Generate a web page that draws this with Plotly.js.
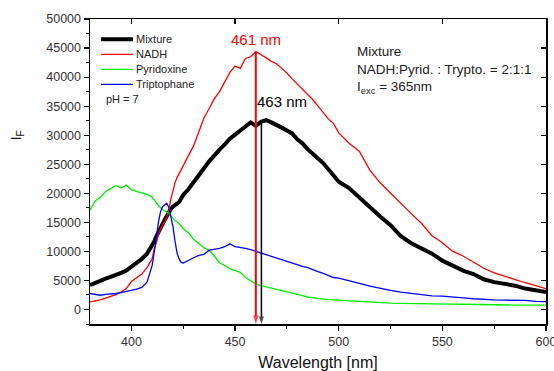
<!DOCTYPE html>
<html>
<head>
<meta charset="utf-8">
<script src="https://cdn.plot.ly/plotly-3.0.1.min.js"></script>
<style>html,body{margin:0;padding:0;background:#fff;}#chart{width:554px;height:371px;}</style>
</head>
<body>
<div id="chart"></div>
<script>
// Wavelength grid (nm)
var wavelength = [380,382.5,385,387.5,390,392.5,395,397.5,400,402.5,405,407.5,410,
  411,412,413,414,415,416,417,418,419,420,421,422,423,424,425,
  427.5,430,432.5,435,437.5,440,442.5,445,447.5,450,452.5,455,457.5,460,462.5,465,467.5,470,472.5,475,477.5,480,482.5,485,487.5,490,492.5,495,497.5,500,
  505,510,515,520,525,530,535,540,545,550,555,560,565,570,575,580,585,590,595,600];

var mixture = [4200,4600,5000,5300,5600,5900,6300,6700,7300,7900,8700,9600,11000,
  11700,12600,13200,14000,14700,15400,16100,16700,17300,17700,17900,18200,18500,19200,19700,
  20700,22000,23300,24300,25500,26600,27500,28400,29400,30100,30900,31500,32200,31600,32300,32600,32200,31800,31300,30800,30300,29300,28600,27600,26900,26000,25200,24200,23000,22000,
  20900,19200,17700,16000,14500,12600,11400,10500,9600,8400,7500,6700,6100,5200,4700,4400,4100,3600,3300,3000];

var nadh = [1300,1450,1650,1950,2250,2550,3000,3600,4800,5500,6100,7200,8700,
  10500,11500,12900,13900,14500,15100,16000,17000,19000,20500,21800,22700,23400,24000,24800,
  26500,28200,30600,33000,34600,36300,37500,39200,40800,41900,41500,43200,43500,44400,43900,43300,42700,42300,41500,40700,39700,38800,37900,37000,36100,35000,33900,32800,32000,30400,
  28600,27200,24000,21800,20000,18200,16500,14800,12700,11500,10000,9200,8200,7100,6300,5700,5100,4600,4100,3600];

var pyridoxine = [17100,18700,19300,20300,20800,21300,20900,21400,20600,20300,20000,19800,19300,
  18900,18400,17900,17500,17200,17000,16800,16500,16200,15700,15300,15100,14800,14400,13900,
  13200,12100,11300,10600,10200,9200,8000,7600,7000,6700,6400,5500,4900,4400,4100,3900,3700,3450,3250,3100,2900,2600,2400,2150,2000,1900,1800,1700,1650,1600,
  1450,1350,1200,1150,1100,1050,1000,1030,950,950,920,900,850,800,760,740,760,740,730,740];

var triptophane = [2750,2600,2450,2600,2650,2750,2900,3100,3250,3500,3800,4700,7600,
  9600,12200,15000,16800,17700,18000,18300,17600,16100,14300,11800,9700,8700,8100,8000,
  8500,8900,9300,9500,10200,10300,10500,10800,11300,10800,10700,10500,10300,10000,9700,9500,9200,8900,8600,8300,8000,7700,7400,7200,6800,6500,6200,5900,5500,5400,
  5000,4500,4000,3600,3300,3000,2750,2500,2350,2300,2100,2000,1850,1700,1650,1600,1580,1550,1400,1350];

var seriesNames = ["Mixture","NADH","Pyridoxine","Triptophane"];
var seriesColors = ["#000000","#ff0000","#00f000","#0000ff"];
var seriesWidths = [4, 1.3, 1.3, 1.3];

// Peak arrows: wavelength (nm), intensity at arrow start, label
var peakNm = [460, 462.7];
var peakTop = [44400, 32600];
var peakColors = ["#ff0000", "#000000"];
var peakLabels = ["461 nm","463 nm"];

var xTicks = [400,450,500,550,600];
var yRange = [-2500, 50000];
var xRange = [380, 600];

var FONT = "Liberation Sans, Arial, sans-serif";
var seriesData = [mixture, nadh, pyridoxine, triptophane];

var traces = seriesData.map(function(d,i){
  return {x: wavelength, y: d, type:'scatter', mode:'lines', name: seriesNames[i], showlegend:false,
    line:{color: seriesColors[i], width: seriesWidths[i]}};
});
// peak arrows drawn as lines ending in arrow markers at the axis floor
peakNm.forEach(function(p,i){
  traces.push({x:[p,p], y:[peakTop[i], yRange[0]], type:'scatter', mode:'lines+markers', showlegend:false,
    cliponaxis:false,
    line:{color:peakColors[i], width: i===0 ? 2 : 1.5},
    marker:{symbol:'arrow', angleref:'previous', size:[0, i===0 ? 9 : 8], color:peakColors[i],
      line:{width:0}}});
});
traces.push({x:[], y:[], xaxis:'x2', yaxis:'y2', showlegend:false, type:'scatter', mode:'lines'});

// manual legend (compact rows as in the reference)
var legX0 = 0.0241, legX1 = 0.0943, legTextX = 0.0965, legY0 = 0.9334, legStep = 0.0492;
var shapes = [];
var annotations = [];
seriesNames.forEach(function(n,i){
  var yy = legY0 - i*legStep;
  shapes.push({type:'line', xref:'paper', yref:'paper', x0:legX0, x1:legX1, y0:yy, y1:yy,
    line:{color:seriesColors[i], width:seriesWidths[i]}});
  annotations.push({x:legTextX, y:yy, xref:'paper', yref:'paper', xanchor:'left', yanchor:'middle',
    text:n, showarrow:false, font:{size:11, family:FONT, color:'#222'}});
});

annotations = annotations.concat([
  {x:peakNm[0], y:46400, xref:'x', yref:'y', text:peakLabels[0], showarrow:false,
    font:{size:15, family:FONT, color:'#ff0000'}},
  {x:472.6, y:35800, xref:'x', yref:'y', text:peakLabels[1], showarrow:false,
    font:{size:15, family:FONT, color:'#000'}},
  {x:0.03, y:0.738, xref:'paper', yref:'paper', xanchor:'left', yanchor:'middle', text:'pH = 7', showarrow:false,
    font:{size:11, family:FONT, color:'#222'}},
  {x:0.582, y:0.895, xref:'paper', yref:'paper', xanchor:'left', yanchor:'middle', text:'Mixture', showarrow:false,
    font:{size:13.5, family:FONT, color:'#222'}},
  {x:0.582, y:0.833, xref:'paper', yref:'paper', xanchor:'left', yanchor:'middle', text:'NADH:Pyrid. : Trypto. = 2:1:1', showarrow:false,
    font:{size:13.5, family:FONT, color:'#222'}},
  {x:0.582, y:0.774, xref:'paper', yref:'paper', xanchor:'left', yanchor:'middle', text:'I<sub>exc</sub> = 365nm', showarrow:false,
    font:{size:13.5, family:FONT, color:'#222'}},
  {x:-0.186, y:0.62, xref:'paper', yref:'paper', text:'I<sub>F</sub>', textangle:-90, showarrow:false,
    font:{size:15, family:FONT, color:'#111'}}
]);

var layout = {
  width:554, height:371,
  margin:{l:90, r:8, t:19, b:47},
  paper_bgcolor:'#fff', plot_bgcolor:'#fff',
  font:{family:FONT, color:'#222'},
  showlegend:false,
  xaxis:{range:xRange, tickvals:xTicks, ticks:'outside', ticklen:5, tickwidth:1.2, tickcolor:'#000',
    showline:true, linecolor:'#000', linewidth:1.5, showgrid:false, zeroline:false,
    ticklabeloverflow:'allow',
    tickfont:{size:12.5, family:FONT, color:'#333'},
    minor:{dtick:25, ticks:'outside', ticklen:3, tickwidth:1, tickcolor:'#000'},
    title:{text:'Wavelength [nm]', font:{size:16, family:FONT, color:'#111'}, standoff:15}},
  yaxis:{range:yRange, dtick:5000, tick0:0, ticks:'outside', ticklen:5, tickwidth:1.2, tickcolor:'#000',
    tickformat:'d', showline:true, linecolor:'#000', linewidth:1.5, showgrid:false, zeroline:false,
    tickfont:{size:12.5, family:FONT, color:'#333'},
    minor:{dtick:2500, ticks:'outside', ticklen:3, tickwidth:1, tickcolor:'#000'}},
  xaxis2:{overlaying:'x', side:'top', range:xRange, tickvals:xTicks, ticks:'inside', ticklen:5, tickwidth:1.2,
    tickcolor:'#000', showticklabels:false, showline:true, linecolor:'#000', linewidth:1.5, showgrid:false, zeroline:false},
  yaxis2:{overlaying:'y', side:'right', range:yRange, dtick:5000, tick0:0, ticks:'inside', ticklen:5, tickwidth:1.2,
    tickcolor:'#000', showticklabels:false, showline:true, linecolor:'#000', linewidth:1.5, showgrid:false, zeroline:false},
  shapes:shapes,
  annotations:annotations
};

Plotly.newPlot('chart', traces, layout, {staticPlot:true, displayModeBar:false});
</script>
</body>
</html>
